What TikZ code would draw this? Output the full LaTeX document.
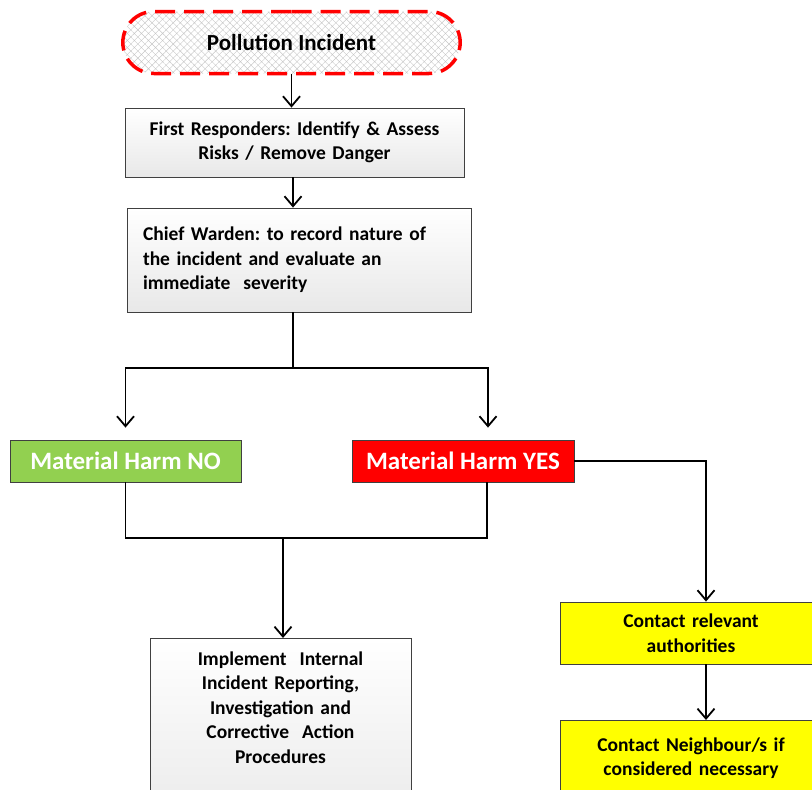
\documentclass[tikz,border=0pt]{standalone}
\usepackage{fontspec}
\setmainfont{Carlito}
\usetikzlibrary{arrows.meta}
\usetikzlibrary{shapes.misc}
\usetikzlibrary{patterns.meta}
\definecolor{harmgreen}{HTML}{92D050}
\definecolor{harmred}{HTML}{FF0000}
\definecolor{contactyellow}{HTML}{FFFF00}
\frenchspacing
\tikzset{
  box/.style={draw=black!75, line width=0.8pt, inner sep=0pt, font=\fontsize{19.5}{24.5}\selectfont\bfseries},
  greybox/.style={box, top color=white, bottom color=black!9},
  harm/.style={box, text=white, font=\fontsize{25}{28}\selectfont\bfseries, minimum height=42pt},
  flow/.style={line width=1.8pt},
  arr/.style={flow, -{Straight Barb[length=10pt,width=17pt]}},
}

\begin{document}
\begin{tikzpicture}[x=1pt,y=-1pt]
        \clip (0,0) rectangle (812,790);

        % start
        \node[rounded rectangle, minimum width=344pt, minimum height=62pt,
              draw=harmred, line width=3.5pt, dash pattern=on 20pt off 9pt,
              pattern={Hatch[angle=45,distance=5pt,line width=0.4pt]}, pattern color=black!22,
              font=\fontsize{23}{26}\selectfont\bfseries] (inc) at (291.5,42.5) {Pollution Incident};

        % column 1
        \node[greybox, minimum width=339pt, minimum height=69pt, text width=330pt, align=center] (resp) at (294.5,142.5)
              {First Responders: Identify \& Assess\\Risks / Remove Danger};
        \node[greybox, minimum width=344pt, minimum height=104pt, text width=312pt, align=left] (chief) at (299,260)
              {Chief Warden: to record nature of\\the incident and evaluate an\\immediate\ \ severity};

        % harm
        \node[harm, fill=harmgreen, minimum width=231pt] (no) at (125.5,461) {Material Harm NO};
        \node[harm, fill=harmred, minimum width=222pt] (yes) at (463,461) {Material Harm YES};

        % bottom row
        \node[greybox, anchor=north, minimum width=261pt, text width=250pt, align=center, inner ysep=13pt] (impl) at (280.5,638)
              {Implement\ \ Internal\\Incident Reporting,\\Investigation and\\Corrective\ \ Action\\Procedures\\[40pt]\mbox{}};
        \node[box, fill=contactyellow, minimum width=262pt, minimum height=62pt, text width=250pt, align=center] (auth) at (691,633)
              {Contact relevant\\authorities};
        \node[box, fill=contactyellow, anchor=north, minimum width=262pt, text width=250pt, align=center, inner ysep=17pt] (neigh) at (691,720)
              {Contact Neighbour/s if\\considered necessary\\[30pt]\mbox{}};

        \coordinate (split) at (293,368);
        \coordinate (merge) at (283,538);

        % connectors
        \draw[arr] (inc.south) -- (inc.south |- resp.north);
        \draw[arr] (resp.south -| split) -- (split |- chief.north);
        \draw[flow] (split |- chief.south) -- (split);
        \draw[arr] (split) -| ([yshift=12pt]no.north);
        \draw[arr] (split) -| ([xshift=25pt,yshift=12pt]yes.north);
        \draw[flow] (no.south) |- (merge) -| ([xshift=24pt]yes.south);
        \draw[arr] (merge) -- (merge |- impl.north);
        \draw[arr] (yes.east) -| ([xshift=15pt]auth.north);
        \draw[arr] ([xshift=15pt]auth.south) -- ([xshift=15pt]neigh.north);
    \end{tikzpicture}
\end{document}
